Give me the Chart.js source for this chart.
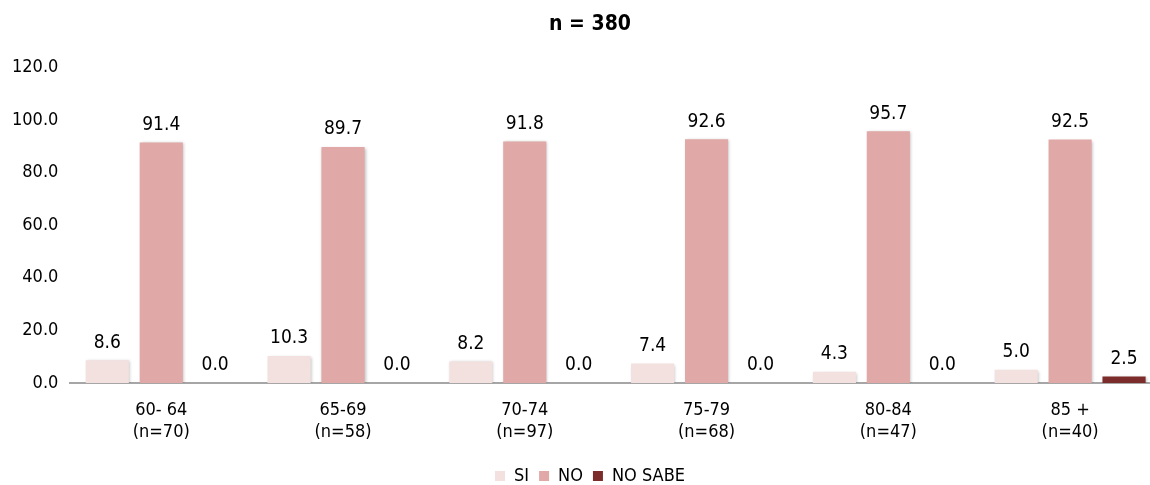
<!DOCTYPE html>
<html>
<head>
<meta charset="utf-8">
<script src="https://cdn.jsdelivr.net/npm/chart.js@4"></script>
<style>
  html, body { margin: 0; padding: 0; background: #fff; overflow: hidden; height: 485px; }
  #wrap { width: 1180px; height: 495px; }
</style>
</head>
<body>
<div id="wrap"><canvas id="grafico"></canvas></div>
<script>
// Datos del gráfico
const categorias = [
    ['60- 64', '(n=70)'],
    ['65-69', '(n=58)'],
    ['70-74', '(n=97)'],
    ['75-79', '(n=68)'],
    ['80-84', '(n=47)'],
    ['85 +', '(n=40)']
];
const valoresSi = [8.6, 10.3, 8.2, 7.4, 4.3, 5.0];
const valoresNo = [91.4, 89.7, 91.8, 92.6, 95.7, 92.5];
const valoresNoSabe = [0.0, 0.0, 0.0, 0.0, 0.0, 2.5];
const ticksY = [0, 20, 40, 60, 80, 100, 120];

const fuente = '"DejaVu Sans Condensed", "DejaVu Sans", sans-serif';
Chart.defaults.font.family = fuente;
Chart.defaults.color = '#000';

// Etiquetas de valor sobre cada barra
const etiquetas = {
    id: 'etiquetas',
    afterDatasetsDraw(chart) {
        const ctx = chart.ctx;
        ctx.save();
        ctx.font = '19px ' + fuente;
        ctx.fillStyle = '#000';
        ctx.textAlign = 'center';
        ctx.textBaseline = 'bottom';
        chart.data.datasets.forEach((ds, i) => {
            chart.getDatasetMeta(i).data.forEach((bar, j) => {
                ctx.fillText(ds.data[j].toFixed(1), bar.x, bar.y - 8);
            });
        });
        ctx.restore();
    }
};

// Sombra suave de las barras
const sombra = {
    id: 'sombra',
    beforeDatasetsDraw(chart) {
        chart.ctx.save();
        chart.ctx.shadowColor = 'rgba(0,0,0,0.25)';
        chart.ctx.shadowBlur = 3;
        chart.ctx.shadowOffsetX = 1;
        chart.ctx.shadowOffsetY = 1;
    },
    afterDatasetsDraw(chart) {
        chart.ctx.restore();
    }
};

new Chart(document.getElementById('grafico'), {
    type: 'bar',
    data: {
        labels: categorias,
        datasets: [
            { label: 'SI', data: valoresSi, backgroundColor: '#f3e1e0' },
            { label: 'NO', data: valoresNo, backgroundColor: '#e0a8a7' },
            { label: 'NO SABE', data: valoresNoSabe, backgroundColor: '#7b2c2b' }
        ]
    },
    options: {
        responsive: true,
        maintainAspectRatio: false,
        animation: false,
        datasets: {
            bar: { categoryPercentage: 0.89, barPercentage: 0.8 }
        },
        layout: { padding: 0 },
        scales: {
            x: {
                grid: { display: false, drawTicks: false },
                border: { color: '#a6a6a6', width: 2 },
                ticks: { font: { size: 18, lineHeight: 1.25 }, padding: 16 },
                afterFit: (axis) => { axis.height = 74; }
            },
            y: {
                min: 0,
                max: 120,
                afterBuildTicks: (axis) => { axis.ticks = ticksY.map(v => ({ value: v })); },
                grid: { display: false, drawTicks: false },
                border: { display: false },
                ticks: {
                    font: { size: 18 },
                    padding: 12,
                    callback: (v) => v.toFixed(1)
                }
            },
            // eje vacío a la derecha, solo reserva margen
            y2: {
                position: 'right',
                grid: { display: false, drawTicks: false },
                border: { display: false },
                ticks: { display: false },
                afterFit: (axis) => { axis.width = 19; }
            }
        },
        plugins: {
            title: {
                display: true,
                text: 'n = 380',
                font: { size: 21, weight: '600' },
                padding: { top: 12, bottom: 30 }
            },
            legend: {
                position: 'bottom',
                labels: {
                    boxWidth: 10,
                    boxHeight: 10,
                    padding: 10,
                    font: { size: 18 }
                }
            },
            tooltip: { enabled: false }
        }
    },
    plugins: [sombra, etiquetas]
});
</script>
</body>
</html>
